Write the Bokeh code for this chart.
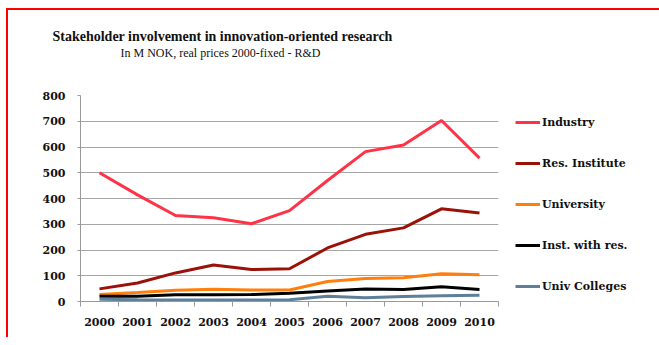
from bokeh.plotting import figure
from bokeh.models import (Range1d, FixedTicker, Legend, LegendItem, Title)
from bokeh.embed import file_html
from bokeh.resources import INLINE

years = [2000, 2001, 2002, 2003, 2004, 2005, 2006, 2007, 2008, 2009, 2010]
industry = [500, 414, 334, 325, 302, 353, 470, 582, 608, 703, 557]
res_institute = [49, 72, 111, 142, 124, 127, 208, 261, 286, 360, 344]
university = [27, 35, 44, 48, 45, 45, 78, 89, 92, 108, 104]
inst_with_res = [20, 20, 26, 26, 27, 32, 41, 49, 47, 57, 47]
univ_colleges = [9, 7, 6, 6, 6, 7, 20, 15, 19, 22, 24]

series_names = ["Industry", "Res. Institute", "University", "Inst. with res.", "Univ Colleges"]
series_values = [industry, res_institute, university, inst_with_res, univ_colleges]
colors = ["#ff3347", "#9a1207", "#ff7f0e", "#000000", "#5f7f99"]
y_ticks = [0, 100, 200, 300, 400, 500, 600, 700, 800]

title_text = "Stakeholder involvement in innovation-oriented research"
subtitle_text = "In M NOK, real prices 2000-fixed - R&D"

serif = "DejaVu Serif"
title_serif = "Liberation Serif"

p = figure(width=645, height=327, output_backend="svg", toolbar_location=None,
           x_range=Range1d(years[0] - 0.5, years[-1] + 0.5),
           y_range=Range1d(0, 800),
           min_border_left=72, min_border_right=155, min_border_top=85, min_border_bottom=36,
           frame_width=418, frame_height=206)
p.title = None
p.outline_line_color = None
p.background_fill_color = "white"
p.border_fill_color = "white"
p.styles = {"border-top": "2px solid #ff0000", "border-left": "2px solid #ff0000",
            "margin-left": "6px", "margin-top": "8px"}

# spacer, subtitle, title (stacked upward from the frame)
p.add_layout(Title(text=" ", text_font_size="1px", standoff=33), "above")
p.add_layout(Title(text=subtitle_text, align="left", offset=40, standoff=0,
                   text_font=title_serif, text_font_style="normal", text_font_size="12px",
                   text_color="#111111"), "above")
p.add_layout(Title(text=title_text, align="left", offset=-28, standoff=0,
                   text_font=title_serif, text_font_style="bold", text_font_size="14px",
                   text_color="#111111"), "above")

renderers = []
for name, vals, c in zip(series_names, series_values, colors):
    r = p.line(years, vals, line_color=c, line_width=3)
    renderers.append(r)

# axes
p.xaxis.ticker = FixedTicker(ticks=years, minor_ticks=[y - 0.5 for y in years] + [years[-1] + 0.5])
p.xaxis.major_tick_out = 0
p.xaxis.major_tick_in = 0
p.xaxis.minor_tick_out = 5
p.xaxis.minor_tick_in = 0
p.xaxis.minor_tick_line_color = "#999999"
p.xaxis.axis_line_color = "#999999"
p.xaxis.major_label_standoff = 11
p.xaxis.major_label_text_font = serif
p.xaxis.major_label_text_font_style = "bold"
p.xaxis.major_label_text_font_size = "11px"
p.xaxis.major_label_text_color = "#111111"

p.yaxis.ticker = FixedTicker(ticks=y_ticks)
p.yaxis.minor_tick_line_color = None
p.yaxis.major_tick_out = 3
p.yaxis.major_tick_in = 0
p.yaxis.major_tick_line_color = "#999999"
p.yaxis.axis_line_color = "#999999"
p.yaxis.major_label_standoff = 12
p.yaxis.major_label_text_font = serif
p.yaxis.major_label_text_font_style = "bold"
p.yaxis.major_label_text_font_size = "11px"
p.yaxis.major_label_text_color = "#111111"

p.xgrid.grid_line_color = None
p.ygrid.ticker = FixedTicker(ticks=y_ticks)
p.ygrid.grid_line_color = "#a6a6a6"
p.ygrid.grid_line_width = 1

legend = Legend(items=[LegendItem(label=n, renderers=[r]) for n, r in zip(series_names, renderers)],
                location="top_left", margin=17, padding=3, spacing=21,
                glyph_width=25, glyph_height=20, label_height=20, label_standoff=2,
                label_text_font=serif, label_text_font_style="bold", label_text_font_size="11px",
                label_text_color="#111111", border_line_color=None, background_fill_alpha=0)
p.add_layout(legend, "right")

open("out.html", "w").write(file_html(p, INLINE))
